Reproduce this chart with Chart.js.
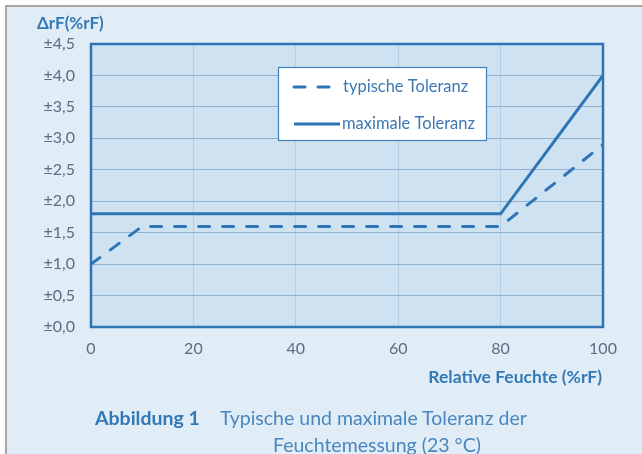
<!DOCTYPE html>
<html>
<head>
<meta charset="utf-8">
<script src="https://cdn.jsdelivr.net/npm/chart.js@4/dist/chart.umd.min.js"></script>
<style>
html,body{margin:0;padding:0;}
body{width:642px;height:454px;overflow:hidden;background:#fff;position:relative;font-family:Lato,"Open Sans",sans-serif;}
#frame{position:absolute;left:5px;top:5px;right:0;bottom:0;background:#e0edf6;border-left:2px solid #a8a8a8;border-top:2px solid #a8a8a8;}
#chartBox{position:absolute;left:0;top:0;width:642px;height:454px;}
.ytitle{position:absolute;left:37px;top:12px;font-size:17px;font-weight:bold;color:#3479b7;}
.xtitle{position:absolute;right:40px;top:366px;font-size:17.5px;font-weight:bold;color:#3479b7;}
.caption{position:absolute;left:95px;top:404px;font-size:19.5px;color:#4a86bf;line-height:27px;white-space:nowrap;}
.caption b{color:#3479b7;margin-right:20px;}
.caption .l2{padding-left:178px;}
</style>
</head>
<body>
<div id="frame"></div>
<div id="chartBox"><canvas id="tolChart" width="642" height="454"></canvas></div>
<div class="ytitle">ΔrF(%rF)</div>
<div class="xtitle">Relative Feuchte (%rF)</div>
<div class="caption"><b>Abbildung 1</b>Typische und maximale Toleranz der<br><span class="l2">Feuchtemessung (23 °C)</span></div>
<script>
const typHumidity = [0, 10, 80, 100];
const typTolerance = [1.0, 1.6, 1.6, 2.9];
const maxHumidity = [0, 80, 100];
const maxTolerance = [1.8, 1.8, 4.0];
const seriesNames = ["typische Toleranz", "maximale Toleranz"];

const lineBlue = "#2e75b6";

function toPoints(xs, ys){
    return xs.map((x, i) => ({x: x, y: ys[i]}));
}

const plotBackground = {
    id: "plotBackground",
    beforeDraw(chart){
        const {ctx, chartArea: a} = chart;
        ctx.save();
        ctx.fillStyle = "#cfe2f1";
        ctx.fillRect(a.left, a.top, a.right - a.left, a.bottom - a.top);
        ctx.restore();
    },
    afterDatasetsDraw(chart){
        const {ctx, chartArea: a} = chart;
        ctx.save();
        ctx.strokeStyle = lineBlue;
        ctx.lineWidth = 2.5;
        ctx.strokeRect(a.left, a.top, a.right - a.left, a.bottom - a.top);
        ctx.restore();
    }
};

// legend box placed inside the plot like the original
const boxLegend = {
    id: "boxLegend",
    afterDraw(chart){
        const ctx = chart.ctx;
        const x = 278, y = 67, w = 208, h = 73;
        ctx.save();
        ctx.fillStyle = "#ffffff";
        ctx.fillRect(x, y, w, h);
        ctx.strokeStyle = "#3f7fbd";
        ctx.lineWidth = 1.2;
        ctx.strokeRect(x + 0.5, y + 0.5, w, h);
        ctx.font = "16.5px Lato, 'Open Sans', sans-serif";
        ctx.textBaseline = "middle";
        chart.data.datasets.forEach((ds, i) => {
            const ly = y + 20 + i * 37;
            ctx.strokeStyle = ds.borderColor;
            ctx.lineWidth = ds.borderWidth;
            ctx.lineCap = i === 0 ? "round" : "butt";
            ctx.setLineDash(ds.borderDash || []);
            ctx.beginPath();
            ctx.moveTo(x + 16, ly);
            ctx.lineTo(x + (i === 0 ? 52 : 62), ly);
            ctx.stroke();
            ctx.setLineDash([]);
            ctx.fillStyle = "#3d78b2";
            ctx.fillText(ds.label, x + (i === 0 ? 65 : 64), ly);
        });
        ctx.restore();
    }
};

new Chart(document.getElementById("tolChart"), {
    type: "line",
    data: {
        datasets: [
            {
                label: seriesNames[0],
                data: toPoints(typHumidity, typTolerance),
                borderColor: lineBlue,
                borderWidth: 3,
                borderDash: [11, 13],
                borderCapStyle: "round",
                pointRadius: 0,
                fill: false,
                tension: 0
            },
            {
                label: seriesNames[1],
                data: toPoints(maxHumidity, maxTolerance),
                borderColor: lineBlue,
                borderWidth: 3,
                pointRadius: 0,
                fill: false,
                tension: 0
            }
        ]
    },
    options: {
        responsive: false,
        animation: false,
        layout: {padding: {top: 44, right: 39, left: 0, bottom: 0}},
        plugins: {
            legend: {display: false},
            tooltip: {enabled: false}
        },
        scales: {
            x: {
                type: "linear",
                min: 0,
                max: 100,
                afterFit(scale){ scale.height = 127; },
                ticks: {
                    stepSize: 20,
                    padding: 12,
                    color: "#5b6c84",
                    font: {family: "Lato, 'Open Sans', sans-serif", size: 16}
                },
                grid: {color: "#b3cee4", lineWidth: 1, drawTicks: false},
                border: {display: false}
            },
            y: {
                min: 0,
                max: 4.5,
                afterFit(scale){ scale.width = 91; },
                ticks: {
                    stepSize: 0.5,
                    padding: 16,
                    color: "#5b6c84",
                    font: {family: "Lato, 'Open Sans', sans-serif", size: 16},
                    callback: (v) => "±" + Number(v).toFixed(1).replace(".", ",")
                },
                grid: {color: "#8eb1cf", lineWidth: 1, drawTicks: false},
                border: {display: false}
            }
        }
    },
    plugins: [plotBackground, boxLegend]
});
</script>
</body>
</html>
